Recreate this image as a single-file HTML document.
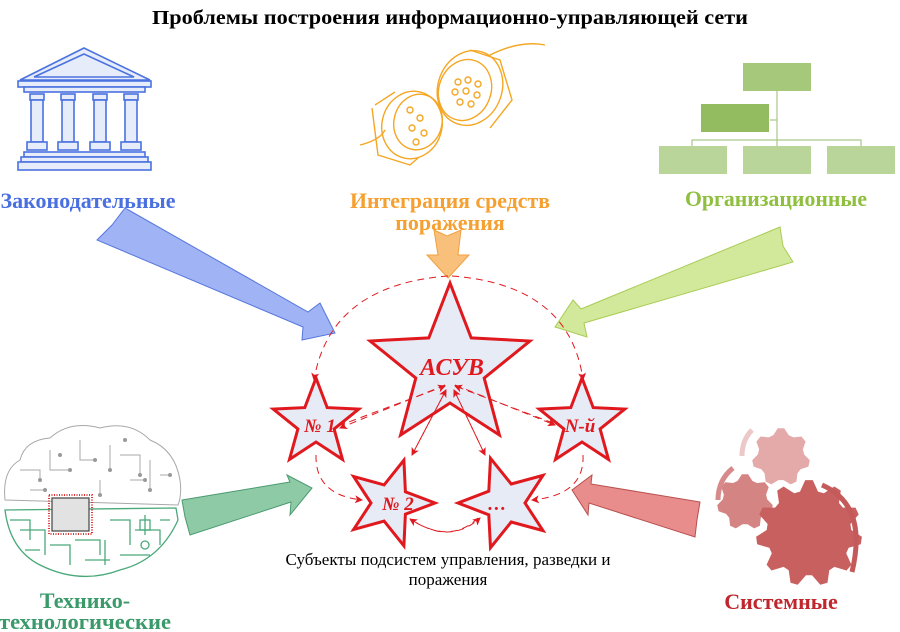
<!DOCTYPE html>
<html><head><meta charset="utf-8"><style>
html,body{margin:0;padding:0;background:#fff}
svg{display:block}
text{font-family:"Liberation Serif",serif}
</style></head><body>
<svg id="s" width="900" height="632" viewBox="0 0 900 632" xmlns="http://www.w3.org/2000/svg">
<defs>
<marker id="ah" markerWidth="8" markerHeight="8" refX="7" refY="4" orient="auto" markerUnits="userSpaceOnUse"><path d="M0,0 L8,4 L0,8 L2,4 z" fill="#e0191f"/></marker>
</defs>
<text x="450" y="24" text-anchor="middle" font-size="20" font-weight="bold" textLength="596" lengthAdjust="spacingAndGlyphs">Проблемы построения информационно-управляющей сети</text>

<!-- temple -->
<g fill="#e6ecfa" stroke="#4a72e0" stroke-width="1.6">
<polygon points="84,48 20,80 150,80"/>
<polygon points="84,54 34,77 134,77" fill="none"/>
<rect x="18" y="81" width="133" height="6"/>
<rect x="24" y="87" width="121" height="5"/>
<rect x="30" y="94" width="14" height="6"/><rect x="61" y="94" width="14" height="6"/><rect x="93" y="94" width="14" height="6"/><rect x="124" y="94" width="14" height="6"/>
<rect x="31" y="100" width="12" height="42"/><rect x="62" y="100" width="12" height="42"/><rect x="94" y="100" width="12" height="42"/><rect x="125" y="100" width="12" height="42"/>
<rect x="27" y="142" width="20" height="8"/><rect x="58" y="142" width="20" height="8"/><rect x="90" y="142" width="20" height="8"/><rect x="121" y="142" width="20" height="8"/>
<rect x="24" y="152" width="121" height="5"/><rect x="21" y="157" width="127" height="5"/><rect x="18" y="162" width="133" height="8"/>
</g>
<text x="88" y="208" text-anchor="middle" font-size="22" font-weight="bold" fill="#4a6fe0" textLength="175" lengthAdjust="spacingAndGlyphs">Законодательные</text>

<!-- connectors -->
<g fill="none" stroke="#f5a623" stroke-width="1.4">
<path d="M490,55 Q520,40 545,45"/>
<path d="M360,145 Q380,140 385,130"/>
<ellipse cx="470" cy="88" rx="32" ry="38" transform="rotate(20 470 88)"/>
<ellipse cx="465" cy="90" rx="26" ry="31" transform="rotate(20 465 90)"/>
<path d="M470,50 L500,60 L512,100 L490,128"/>
<ellipse cx="412" cy="125" rx="30" ry="34" transform="rotate(15 412 125)"/>
<ellipse cx="418" cy="122" rx="24" ry="28" transform="rotate(15 418 122)"/>
<path d="M375,105 L395,92 M372,108 L378,155 L410,165 L418,158"/>
<g fill="none"><circle cx="458" cy="82" r="3"/><circle cx="468" cy="80" r="3"/><circle cx="478" cy="84" r="3"/><circle cx="455" cy="92" r="3"/><circle cx="466" cy="91" r="3"/><circle cx="477" cy="95" r="3"/><circle cx="460" cy="102" r="3"/><circle cx="471" cy="104" r="3"/><circle cx="410" cy="110" r="3"/><circle cx="420" cy="118" r="3"/><circle cx="412" cy="128" r="3"/><circle cx="424" cy="133" r="3"/><circle cx="416" cy="142" r="3"/></g>
</g>
<text x="450" y="208" text-anchor="middle" font-size="22" font-weight="bold" fill="#f5a030" textLength="200" lengthAdjust="spacingAndGlyphs">Интеграция средств</text>
<text x="450" y="230" text-anchor="middle" font-size="22" font-weight="bold" fill="#f5a030">поражения</text>

<!-- org chart -->
<g stroke="#a9c98a" stroke-width="1.2" fill="none">
<path d="M777,90 V148 M770,120 H777 M692,148 V140 H861 V148"/>
</g>
<rect x="743" y="63" width="68" height="28" fill="#a6c87a"/>
<rect x="701" y="104" width="68" height="28" fill="#93bb5f"/>
<rect x="659" y="146" width="68" height="28" fill="#b9d59a"/>
<rect x="743" y="146" width="68" height="28" fill="#b9d59a"/>
<rect x="827" y="146" width="68" height="28" fill="#b9d59a"/>
<text x="776" y="206" text-anchor="middle" font-size="22" font-weight="bold" fill="#8fbf3e" textLength="182" lengthAdjust="spacingAndGlyphs">Организационные</text>

<!-- brain -->
<g fill="none" stroke="#a8a8a8" stroke-width="1">
<path d="M5,500 Q2,470 20,460 Q25,440 50,438 Q70,420 100,428 Q130,420 150,440 Q175,450 180,480 Q182,495 178,505 Z"/>
<path d="M20,470 H40 V480 M50,450 V470 H70 M80,440 V460 H95 M110,445 V470 M120,455 H140 V475 M150,460 V490 M160,475 H170 M30,490 H45 M100,480 V495 M130,480 H145"/>
</g>
<g fill="#999"><circle cx="40" cy="480" r="2"/><circle cx="70" cy="470" r="2"/><circle cx="95" cy="460" r="2"/><circle cx="110" cy="470" r="2"/><circle cx="140" cy="475" r="2"/><circle cx="150" cy="490" r="2"/><circle cx="170" cy="475" r="2"/><circle cx="45" cy="490" r="2"/><circle cx="100" cy="495" r="2"/><circle cx="145" cy="480" r="2"/><circle cx="60" cy="455" r="2"/><circle cx="125" cy="440" r="2"/></g>
<g fill="none" stroke="#4aa97a" stroke-width="1.3">
<path d="M5,510 Q10,550 40,565 Q80,585 120,570 Q160,560 178,520 L176,508 Z"/>
<path d="M10,520 H30 V540 M20,530 H45 V555 M50,545 H70 V565 M75,540 H100 V555 M105,540 V565 M110,520 H130 V545 M135,530 H160 V545 M145,515 V535 M160,520 H170 M25,550 H40 M85,560 H110 M120,555 H150"/>
<rect x="140" y="520" width="10" height="10"/><circle cx="145" cy="545" r="4"/>
</g>
<rect x="49" y="495" width="43" height="39" fill="none" stroke="#d33" stroke-width="2" stroke-dasharray="1 1.5"/>
<rect x="52" y="498" width="37" height="33" fill="#e2e2e2" stroke="#444" stroke-width="1.2"/>
<text x="85" y="608" text-anchor="middle" font-size="22" font-weight="bold" fill="#3a9a6a">Технико-</text>
<text x="85" y="629" text-anchor="middle" font-size="22" font-weight="bold" fill="#3a9a6a" textLength="172" lengthAdjust="spacingAndGlyphs">технологические</text>

<!-- gears -->
<g id="gears"></g>
<path d="M718,500 Q718,480 733,468" fill="none" stroke="#d88a8a" stroke-width="5"/>
<path d="M742,456 Q742,440 752,430" fill="none" stroke="#ecc8c8" stroke-width="5"/>
<path d="M822,485 Q868,505 852,572" fill="none" stroke="#c45a5a" stroke-width="5"/>
<text x="781" y="609" text-anchor="middle" font-size="22" font-weight="bold" fill="#c0272d">Системные</text>

<!-- block arrows -->
<polygon points="125,208 308,312 320,303 335,333 302,340 303,327 97,240 112,225" fill="#a0b4f5" stroke="#5577dd" stroke-width="1"/>
<polygon points="780,227 581,309 573,300 555,327 587,337 584,323 793,262 783,246" fill="#d2e89a" stroke="#a9cc55" stroke-width="1"/>
<polygon points="182,500 290,482 287,475 312,488 290,515 291,502 190,535 185,517" fill="#8fcaa6" stroke="#4a9a70" stroke-width="1"/>
<polygon points="700,502 591,484 592,475 572,490 588,515 589,503 695,537 697,520" fill="#e88c8c" stroke="#b85050" stroke-width="1"/>
<polygon points="434,230 447,236 461,230 458,255 469,255 448,278 427,255 438,255" fill="#f8c07a" stroke="#f0a040" stroke-width="1"/>

<!-- stars -->
<g id="stars" fill="#e6ebf6" stroke="#e0191f" stroke-width="3" stroke-linejoin="miter"></g>

<!-- dashed connectors -->
<g fill="none" stroke="#e0191f" stroke-width="1" stroke-dasharray="7 5" marker-end="url(#ah)">
<path d="M448,276 Q330,285 314,380"/>
<path d="M452,276 Q570,285 583,380"/>
<path d="M445,385 L340,428"/>
<path d="M338,426 L445,386"/>
<path d="M455,385 L555,425"/>
<path d="M553,423 L455,386"/>
<path d="M446,390 L412,455"/>
<path d="M412,455 L446,390"/>
<path d="M454,390 L485,455"/>
<path d="M485,455 L454,390"/>
<path d="M316,455 Q315,495 362,500"/>
<path d="M583,455 Q585,495 532,500"/>
<path d="M478,518 Q450,545 410,519"/>
<path d="M412,520 Q450,545 480,518"/>
</g>

<g font-style="italic" font-weight="bold" fill="#e0191f" text-anchor="middle">
<text x="452" y="375" font-size="24">АСУВ</text>
<text x="320" y="432" font-size="19">№ 1</text>
<text x="580" y="432" font-size="19">N-й</text>
<text x="398" y="510" font-size="19">№ 2</text>
<text x="497" y="510" font-size="19">…</text>
</g>
<text x="448" y="565" text-anchor="middle" font-size="17" textLength="325" lengthAdjust="spacingAndGlyphs">Субъекты подсистем управления, разведки и</text>
<text x="448" y="585" text-anchor="middle" font-size="17">поражения</text>
</svg>
<script>
function star(cx,cy,R,r,rot){var p=[];for(var i=0;i<10;i++){var a=(-90+rot+i*36)*Math.PI/180,rr=i%2?r:R;p.push((cx+rr*Math.cos(a)).toFixed(1)+","+(cy+rr*Math.sin(a)).toFixed(1));}return p.join(" ");}
var ns="http://www.w3.org/2000/svg",g=document.getElementById("stars");
[[450,367,84,36,0],[316,423,45,19,0],[582,423,45,19,0],[390,503,45,19,18],[505,503,47,20,-18]].forEach(function(s){var e=document.createElementNS(ns,"polygon");e.setAttribute("points",star.apply(null,s));g.appendChild(e);});
function gear(cx,cy,R,teeth,col){var p=[],n=teeth*4;for(var i=0;i<n;i++){var a=(i+0.5)/n*2*Math.PI,rr=(i%4<2)?R:R*0.8;p.push((cx+rr*Math.cos(a)).toFixed(1)+","+(cy+rr*Math.sin(a)).toFixed(1));}var e=document.createElementNS(ns,"polygon");e.setAttribute("points",p.join(" "));e.setAttribute("fill",col);document.getElementById("gears").appendChild(e);}
gear(781,457,29,7,"#e4aaaa");gear(745,502,28,7,"#d58484");gear(809,533,53,11,"#c96060");
</script>
</body></html>
